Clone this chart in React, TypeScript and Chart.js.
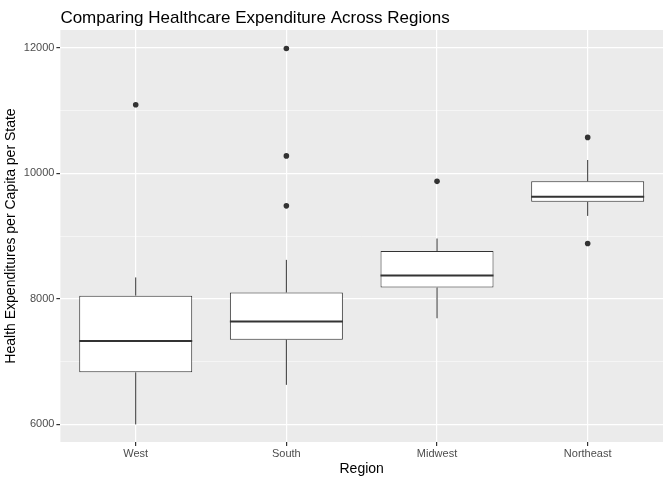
import { useEffect, useRef } from 'react';
import { Chart, registerables } from 'chart.js';

Chart.register(...registerables);

const regions = ['West', 'South', 'Midwest', 'Northeast'];
const lowWhisker = [6000, 6630, 7690, 9320];
const q1 = [6830, 7350, 8180, 9545];
const medians = [7330, 7640, 8370, 9625];
const q3 = [8050, 8100, 8760, 9870];
const highWhisker = [8340, 8620, 8960, 10210];
const outliers = [
  { x: 'West', y: 11090 },
  { x: 'South', y: 9480 },
  { x: 'South', y: 10275 },
  { x: 'South', y: 11985 },
  { x: 'Midwest', y: 9870 },
  { x: 'Northeast', y: 10570 },
  { x: 'Northeast', y: 8880 },
];

const FONT = '"Liberation Sans", Arial, sans-serif';

const boxPlugin = {
  id: 'boxExtras',
  beforeDraw(chart: any) {
    const { ctx, chartArea: a } = chart;
    ctx.save();
    ctx.fillStyle = '#EBEBEB';
    ctx.fillRect(a.left, a.top, a.right - a.left, a.bottom - a.top);
    ctx.restore();
  },
  afterDatasetsDraw(chart: any) {
    const { ctx } = chart;
    const y = chart.scales.y;
    const meta = chart.getDatasetMeta(0);
    ctx.save();
    ctx.strokeStyle = '#333333';
    meta.data.forEach((bar: any, i: number) => {
      const half = bar.width / 2;
      ctx.lineWidth = 1;
      ctx.beginPath();
      ctx.moveTo(bar.x, y.getPixelForValue(q3[i]));
      ctx.lineTo(bar.x, y.getPixelForValue(highWhisker[i]));
      ctx.moveTo(bar.x, y.getPixelForValue(q1[i]));
      ctx.lineTo(bar.x, y.getPixelForValue(lowWhisker[i]));
      ctx.stroke();
      ctx.lineWidth = 2;
      ctx.beginPath();
      const my = y.getPixelForValue(medians[i]);
      ctx.moveTo(bar.x - half, my);
      ctx.lineTo(bar.x + half, my);
      ctx.stroke();
    });
    ctx.restore();
  },
  afterDraw(chart: any) {
    const { ctx, chartArea: a } = chart;
    ctx.save();
    ctx.fillStyle = '#000';
    ctx.font = `17px ${FONT}`;
    ctx.textBaseline = 'alphabetic';
    ctx.fillText('Comparing Healthcare Expenditure Across Regions', a.left, 23);
    ctx.restore();
  },
};

export default function App() {
  const ref = useRef<HTMLCanvasElement>(null);

  useEffect(() => {
    if (!ref.current) return;
    const chart = new Chart(ref.current, {
      type: 'bar',
      data: {
        labels: regions,
        datasets: [
          {
            type: 'bar',
            data: regions.map((_, i) => [q1[i], q3[i]]),
            backgroundColor: '#FFFFFF',
            borderColor: '#333333',
            borderWidth: 1,
            borderSkipped: false,
            categoryPercentage: 1,
            barPercentage: 0.75,
          } as any,
          {
            type: 'scatter',
            data: outliers as any,
            backgroundColor: '#333333',
            borderWidth: 0,
            pointRadius: 2.8,
          } as any,
        ],
      },
      options: {
        animation: false,
        responsive: true,
        maintainAspectRatio: false,
        layout: { padding: { top: 30, right: 9, left: 1, bottom: 0 } },
        plugins: { legend: { display: false }, tooltip: { enabled: false } },
        scales: {
          x: {
            type: 'category',
            offset: true,
            grid: { offset: false, color: '#FFFFFF', lineWidth: 1.2, tickColor: '#333333', tickLength: 4, drawOnChartArea: true },
            border: { display: false },
            ticks: { color: '#4D4D4D', font: { family: FONT, size: 11 }, padding: 1 },
            title: { display: true, text: 'Region', color: '#000', font: { family: FONT, size: 14 }, padding: { top: 0, bottom: 2 } },
          },
          y: {
            min: 5720,
            max: 12280,
            afterBuildTicks: (s: any) => {
              s.ticks = [6000, 7000, 8000, 9000, 10000, 11000, 12000].map((v) => ({ value: v }));
            },
            grid: {
              color: '#FFFFFF',
              lineWidth: (c: any) => (c.tick && c.tick.value % 2000 === 0 ? 1.2 : 0.5),
              tickColor: (c: any) => (c.tick && c.tick.value % 2000 === 0 ? '#333333' : 'rgba(0,0,0,0)'),
              tickLength: 4,
            },
            border: { display: false },
            ticks: {
              color: '#4D4D4D',
              font: { family: FONT, size: 11 },
              padding: 2,
              callback: (v: any) => (v % 2000 === 0 ? String(v) : ''),
            },
            title: {
              display: true,
              text: 'Health Expenditures per Capita per State',
              color: '#000',
              font: { family: FONT, size: 14 },
              padding: { top: 2, bottom: 2 },
            },
          },
        },
      },
      plugins: [boxPlugin],
    });
    return () => chart.destroy();
  }, []);

  return (
    <div style={{ position: 'fixed', left: 0, top: 0, width: 672, height: 480, background: '#fff' }}>
      <canvas ref={ref} />
    </div>
  );
}
